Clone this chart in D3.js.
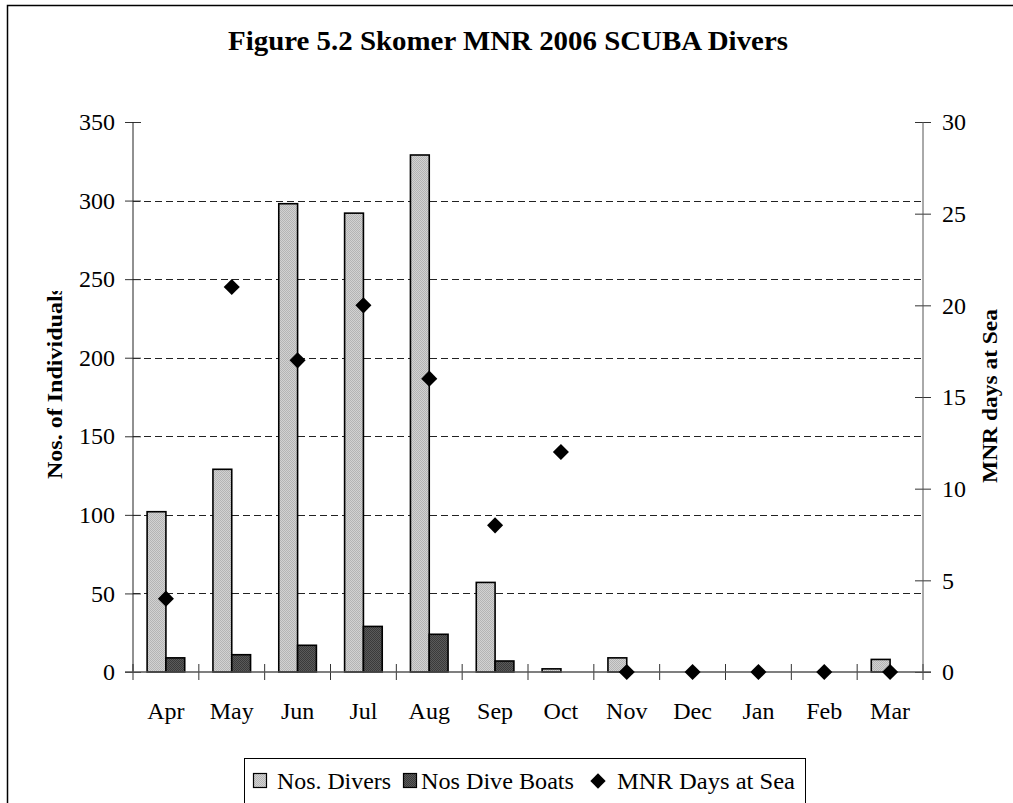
<!DOCTYPE html>
<html>
<head>
<meta charset="utf-8">
<script src="https://cdn.jsdelivr.net/npm/d3@7"></script>
<style>
  body { margin: 0; background: #fff; }
  text { font-family: "Liberation Serif", "Times New Roman", serif; fill: #000; }
</style>
</head>
<body>
<svg id="chart" width="1013" height="803"></svg>
<script>
var months = ["Apr", "May", "Jun", "Jul", "Aug", "Sep", "Oct", "Nov", "Dec", "Jan", "Feb", "Mar"];
var divers = [102, 129, 298, 292, 329, 57, 2, 9, 0, 0, 0, 8];
var boats = [9, 11, 17, 29, 24, 7, 0, 0, 0, 0, 0, 0];
var daysAtSea = [4, 21, 17, 20, 16, 8, 12, 0, 0, 0, 0, 0];
var leftTicks = [0, 50, 100, 150, 200, 250, 300, 350];
var rightTicks = [0, 5, 10, 15, 20, 25, 30];

var svg = d3.select("#chart");

// textured fills, like the old spreadsheet patterns
var defs = svg.append("defs");
function texture(id, bg, dot) {
    var p = defs.append("pattern").attr("id", id)
        .attr("width", 2).attr("height", 2).attr("patternUnits", "userSpaceOnUse");
    p.append("rect").attr("width", 2).attr("height", 2).style("fill", bg);
    p.append("rect").attr("width", 1).attr("height", 1).style("fill", dot);
    p.append("rect").attr("x", 1).attr("y", 1).attr("width", 1).attr("height", 1).style("fill", dot);
}
texture("lightTex", "#d2d2d2", "#b4b4b4");
texture("darkTex", "#5a5a5a", "#3a3a3a");

// outer chart frame
svg.append("rect")
    .attr("x", 7.5).attr("y", 5.5)
    .attr("width", 1030).attr("height", 820)
    .style("fill", "none").style("stroke", "#000").style("stroke-width", 1.5);

var plotL = 133, plotR = 923, plotT = 122, plotB = 672;

var x = d3.scaleBand().domain(months).range([plotL, plotR]);
var y = d3.scaleLinear().domain([0, 350]).range([plotB, plotT]);
var y2 = d3.scaleLinear().domain([0, 30]).range([plotB, plotT]);

var barW = x.bandwidth() / 3.5;

// dashed gridlines
svg.append("g")
    .selectAll("line")
    .data(leftTicks.filter(d => d > 0 && d < 350))
    .enter()
    .append("line")
    .attr("x1", plotL).attr("x2", plotR)
    .attr("y1", d => Math.round(y(d)) + 0.5)
    .attr("y2", d => Math.round(y(d)) + 0.5)
    .style("stroke", "#222")
    .style("stroke-dasharray", "7,4");

// bars
var idx = d3.range(months.length);

svg.append("g")
    .selectAll("rect")
    .data(idx.filter(i => divers[i] > 0))
    .enter()
    .append("rect")
    .attr("x", i => x(months[i]) + x.bandwidth() / 2 - barW)
    .attr("y", i => y(divers[i]))
    .attr("width", barW)
    .attr("height", i => plotB - y(divers[i]))
    .style("fill", "url(#lightTex)")
    .style("stroke", "#000")
    .style("stroke-width", 1.6);

svg.append("g")
    .selectAll("rect")
    .data(idx.filter(i => boats[i] > 0))
    .enter()
    .append("rect")
    .attr("x", i => x(months[i]) + x.bandwidth() / 2)
    .attr("y", i => y(boats[i]))
    .attr("width", barW)
    .attr("height", i => plotB - y(boats[i]))
    .style("fill", "url(#darkTex)")
    .style("stroke", "#000")
    .style("stroke-width", 1.6);

// axes
var leftAxis = d3.axisLeft(y).tickValues(leftTicks).tickSize(8).tickPadding(10);
var gl = svg.append("g").attr("transform", "translate(" + plotL + ",0)").call(leftAxis);

var rightAxis = d3.axisRight(y2).tickValues(rightTicks).tickSize(8).tickPadding(11);
var gr = svg.append("g").attr("transform", "translate(" + plotR + ",0)").call(rightAxis);

var bottomAxis = d3.axisBottom(x).tickSize(8).tickPadding(22);
var gb = svg.append("g").attr("transform", "translate(0," + plotB + ")").call(bottomAxis);

[gl, gr, gb].forEach(function (g) {
    g.select(".domain").remove();
    g.selectAll("text").style("font-size", "24px").style("font-family", "Liberation Serif");
    g.selectAll(".tick line").style("stroke", "#333");
});

// crossing tick marks
gl.selectAll(".tick line").attr("x1", 8).attr("x2", -8);
gr.selectAll(".tick line").attr("x1", -8).attr("x2", 8);
gb.selectAll(".tick line").attr("transform", "translate(" + (-x.bandwidth() / 2) + ",0)").attr("y1", -8).attr("y2", 8);
gb.append("line")
    .attr("x1", plotR).attr("x2", plotR).attr("y1", -8).attr("y2", 8)
    .style("stroke", "#333");

svg.append("line")
    .attr("x1", plotL).attr("x2", plotL).attr("y1", plotT).attr("y2", plotB)
    .style("stroke", "#222");
svg.append("line")
    .attr("x1", plotR).attr("x2", plotR).attr("y1", plotT).attr("y2", plotB)
    .style("stroke", "#555");
svg.append("line")
    .attr("x1", plotL - 8).attr("x2", plotR + 8).attr("y1", plotB).attr("y2", plotB)
    .style("stroke", "#555").style("stroke-width", 1.5);

// days at sea diamonds
var diamond = d3.symbol().type(d3.symbolDiamond2).size(165);
svg.append("g")
    .selectAll("path")
    .data(idx)
    .enter()
    .append("path")
    .attr("d", diamond)
    .attr("transform", i => "translate(" + (x(months[i]) + x.bandwidth() / 2) + "," + y2(daysAtSea[i]) + ")")
    .style("fill", "#000");

// title
svg.append("text")
    .attr("x", 508).attr("y", 50)
    .attr("text-anchor", "middle")
    .attr("textLength", 560)
    .attr("lengthAdjust", "spacingAndGlyphs")
    .style("font-size", "27px")
    .style("font-weight", "bold")
    .text("Figure 5.2 Skomer MNR 2006 SCUBA Divers");

// axis titles (left one is cut off at the top, as in the original)
svg.append("clipPath").attr("id", "ytclip")
    .append("rect").attr("x", 0).attr("y", 291).attr("width", 120).attr("height", 300);

svg.append("g")
    .attr("clip-path", "url(#ytclip)")
    .append("text")
    .attr("transform", "translate(62,479) rotate(-90)")
    .attr("textLength", 193)
    .attr("lengthAdjust", "spacingAndGlyphs")
    .style("font-size", "21px")
    .style("font-weight", "bold")
    .text("Nos. of Individuals");

svg.append("text")
    .attr("transform", "translate(997,396) rotate(-90)")
    .attr("text-anchor", "middle")
    .attr("textLength", 174)
    .attr("lengthAdjust", "spacingAndGlyphs")
    .style("font-size", "21px")
    .style("font-weight", "bold")
    .text("MNR days at Sea");

// legend
var lg = svg.append("g");
lg.append("rect")
    .attr("x", 244.5).attr("y", 758.5)
    .attr("width", 561).attr("height", 80)
    .style("fill", "#fff").style("stroke", "#000");

var legendItems = [
    { label: "Nos. Divers", fill: "url(#lightTex)", sx: 253, tx: 277, tl: 114 },
    { label: "Nos Dive Boats", fill: "url(#darkTex)", sx: 403, tx: 421, tl: 153 },
    { label: "MNR Days at Sea", fill: "#000", sx: 591, tx: 617, tl: 178 }
];

lg.selectAll("g.item")
    .data(legendItems)
    .enter()
    .append("g")
    .attr("class", "item")
    .each(function (d, i) {
        var g = d3.select(this);
        if (i < 2) {
            g.append("rect")
                .attr("x", d.sx + 0.5).attr("y", 773.5)
                .attr("width", 13).attr("height", 14)
                .style("fill", d.fill).style("stroke", "#000").style("stroke-width", 1.2);
        } else {
            g.append("path")
                .attr("d", d3.symbol().type(d3.symbolDiamond2).size(150))
                .attr("transform", "translate(" + (d.sx + 7) + ",781)")
                .style("fill", "#000");
        }
        g.append("text")
            .attr("x", d.tx).attr("y", 789)
            .attr("textLength", d.tl)
            .attr("lengthAdjust", "spacingAndGlyphs")
            .style("font-size", "23px")
            .text(d.label);
    });
</script>
</body>
</html>
